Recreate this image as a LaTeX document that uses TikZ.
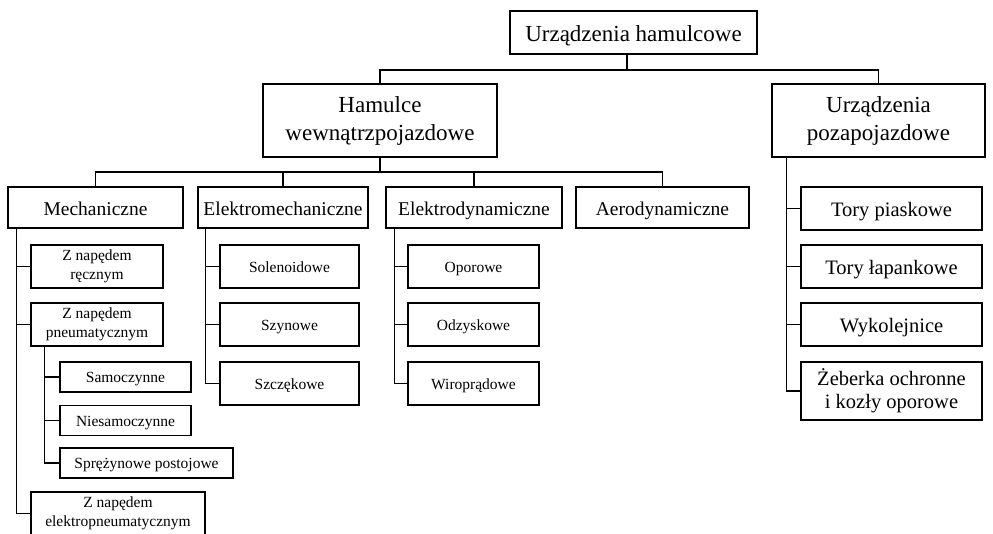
\documentclass[tikz,border=0pt]{standalone}
\usepackage{fontspec}
\setmainfont{Liberation Serif}
\usetikzlibrary{calc}
\begin{document}
\begin{tikzpicture}[x=1pt,y=-1pt,
  box/.style={draw, line width=1.3pt, inner sep=0pt, fill=white},
  one/.style={text height=#1, text depth=0pt},
  two/.style={align=center},
  lvlA/.style={font=\fontsize{23}{28}\selectfont},
  lvlB/.style={font=\fontsize{19.5}{23}\selectfont},
  lvlC/.style={font=\fontsize{15.5}{19}\selectfont},
  lvlR/.style={font=\fontsize{20.5}{23}\selectfont},
  conn/.style={line width=1.3pt}]
\fill[white] (0,0) rectangle (993,533);
\useasboundingbox (0,0) rectangle (993,533);
\clip (0,0) rectangle (993,533);

% level 0 and 1
\node[box,lvlA,one=17pt,minimum width=247,minimum height=43] (root) at (633.5,32.5) {Urządzenia hamulcowe};
\node[box,lvlA,two,minimum width=234,minimum height=73] (ham) at (380,120.5) {Hamulce\\wewnątrzpojazdowe};
\node[box,lvlA,two,minimum width=213,minimum height=73] (poza) at (878.5,120.5) {Urządzenia\\pozapojazdowe};

% level 2
\node[box,lvlB,one=15pt,minimum width=175,minimum height=41] (mech) at (95.5,207.5) {Mechaniczne};
\node[box,lvlB,one=15pt,minimum width=170,minimum height=41] (emech) at (283,207.5) {Elektromechaniczne};
\node[box,lvlB,one=15pt,minimum width=176,minimum height=41] (edyn) at (474,207.5) {Elektrodynamiczne};
\node[box,lvlB,one=15pt,minimum width=173,minimum height=41] (aero) at (662.5,207.5) {Aerodynamiczne};

% Mechaniczne children
\node[box,lvlC,two,minimum width=132,minimum height=43] (zr) at (97,266.5) {Z napędem\\ręcznym};
\node[box,lvlC,two,minimum width=132,minimum height=43] (zp) at (97,324.5) {Z napędem\\pneumatycznym};
\node[box,lvlC,one=11pt,minimum width=131,minimum height=30] (samo) at (125.5,377) {Samoczynne};
\node[box,lvlC,one=11pt,minimum width=131,minimum height=30] (nsamo) at (125.5,420.5) {Niesamoczynne};
\node[box,lvlC,one=11pt,minimum width=173,minimum height=30] (sprez) at (146.5,463) {Sprężynowe postojowe};
\node[box,lvlC,two,minimum width=174,minimum height=43] (zep) at (118,513.5) {Z napędem\\elektropneumatycznym};

% Elektromechaniczne children
\node[box,lvlC,one=12pt,minimum width=139,minimum height=43] (sol) at (289.5,266.5) {Solenoidowe};
\node[box,lvlC,one=12pt,minimum width=139,minimum height=43] (szyn) at (289.5,324.5) {Szynowe};
\node[box,lvlC,one=12pt,minimum width=139,minimum height=43] (szcz) at (289.5,383.5) {Szczękowe};

% Elektrodynamiczne children
\node[box,lvlC,one=12pt,minimum width=131,minimum height=43] (opor) at (473.5,266.5) {Oporowe};
\node[box,lvlC,one=12pt,minimum width=131,minimum height=43] (odz) at (473.5,324.5) {Odzyskowe};
\node[box,lvlC,one=12pt,minimum width=131,minimum height=43] (wir) at (473.5,383.5) {Wiroprądowe};

% Urządzenia pozapojazdowe children
\node[box,lvlR,one=16pt,minimum width=181,minimum height=43] (tp) at (891.5,208.5) {Tory piaskowe};
\node[box,lvlR,one=16pt,minimum width=181,minimum height=43] (tl) at (891.5,266.5) {Tory łapankowe};
\node[box,lvlR,one=16pt,minimum width=181,minimum height=43] (wyk) at (891.5,324.5) {Wykolejnice};
\node[box,lvlR,two,minimum width=181,minimum height=58] (zeb) at (891.5,391) {Żeberka ochronne\\i kozły oporowe};

% bus coordinates
\coordinate (busA) at (0,70);
\coordinate (busB) at (0,172);
\coordinate (mv) at ($(mech.south west)+(9,0)$);
\coordinate (pv) at ($(zp.south west)+(14,0)$);
\coordinate (ev) at ($(emech.south west)+(8,0)$);
\coordinate (dv) at ($(edyn.south west)+(9,0)$);
\coordinate (rv) at ($(poza.south west)+(15,0)$);

% top connectors
\draw[conn] (root.south -| 627,0) -- (busA -| 627,0);
\draw[conn] (ham.north) |- (busA -| poza.north) -- (poza.north);

% level 2 connectors
\draw[conn] (ham.south) -- (busB -| ham.south);
\draw[conn] (mech.north) |- (busB -| aero.north) -- (aero.north);
\draw[conn] (emech.north) -- (busB -| emech.north);
\draw[conn] (edyn.north) -- (busB -| edyn.north);

% Mechaniczne tree
\draw[conn] (mv) |- (zep.west);
\draw[conn] (mv |- zr.west) -- (zr.west);
\draw[conn] (mv |- zp.west) -- (zp.west);
\draw[conn] (pv) |- (sprez.west);
\draw[conn] (pv |- samo.west) -- (samo.west);
\draw[conn] (pv |- nsamo.west) -- (nsamo.west);

% Elektromechaniczne tree
\draw[conn] (ev) |- (szcz.west);
\draw[conn] (ev |- sol.west) -- (sol.west);
\draw[conn] (ev |- szyn.west) -- (szyn.west);

% Elektrodynamiczne tree
\draw[conn] (dv) |- (wir.west);
\draw[conn] (dv |- opor.west) -- (opor.west);
\draw[conn] (dv |- odz.west) -- (odz.west);

% pozapojazdowe tree
\draw[conn] (rv) |- (zeb.west);
\draw[conn] (rv |- tp.west) -- (tp.west);
\draw[conn] (rv |- tl.west) -- (tl.west);
\draw[conn] (rv |- wyk.west) -- (wyk.west);
\end{tikzpicture}
\end{document}
